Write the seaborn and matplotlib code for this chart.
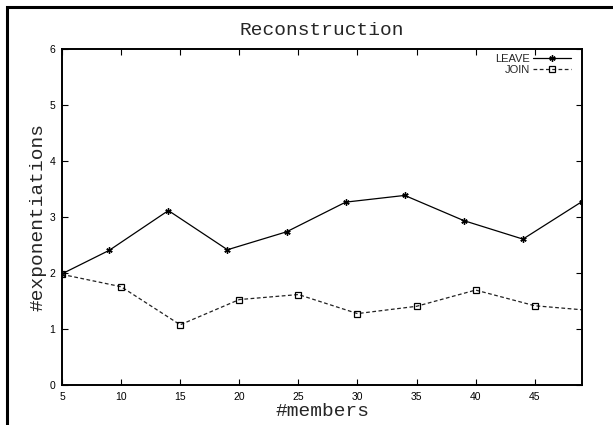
import matplotlib
matplotlib.use('Agg')

import matplotlib.pyplot as plt
import seaborn as sns
import pandas as pd
from matplotlib.patches import Rectangle

# data
leave_x = [5, 9, 14, 19, 24, 29, 34, 39, 44, 49]
leave_y = [1.98, 2.40, 3.11, 2.41, 2.73, 3.26, 3.38, 2.93, 2.60, 3.27]
join_x = [5, 10, 15, 20, 25, 30, 35, 40, 45, 50]
join_y = [1.97, 1.75, 1.07, 1.52, 1.61, 1.27, 1.40, 1.69, 1.41, 1.32]
x_ticks = [5, 10, 15, 20, 25, 30, 35, 40, 45]
y_ticks = [0, 1, 2, 3, 4, 5, 6]

sns.set_style("ticks")
plt.rcParams['font.family'] = ['Liberation Sans', 'DejaVu Sans']
mono = ['Liberation Mono', 'DejaVu Sans Mono']

fig = plt.figure(figsize=(6.13, 4.25), dpi=100)
ax = fig.add_axes([62 / 613, 1 - 384.7 / 425, 520 / 613, 336 / 425])

# outer frame (cut off on right and bottom like the reference)
fig.patches.append(Rectangle((7 / 613, -0.5), 2, 1.5 - 7 / 425, transform=fig.transFigure,
                             fill=False, edgecolor='black', linewidth=2.2))

df_leave = pd.DataFrame({"x": leave_x, "y": leave_y})
df_join = pd.DataFrame({"x": join_x, "y": join_y})

sns.lineplot(data=df_leave, x="x", y="y", ax=ax, color="black", linewidth=0.9,
             marker=(6, 2, 0), markersize=4.5, markeredgewidth=1.0,
             markeredgecolor="black", label="LEAVE")
sns.lineplot(data=df_join, x="x", y="y", ax=ax, color="#222222", linewidth=0.9,
             linestyle=(0, (3, 2)), marker="s", markersize=4.5,
             markerfacecolor="none", markeredgecolor="black", markeredgewidth=0.9,
             label="JOIN")

ax.set_xlim(5, 49)
ax.set_ylim(0, 6)
ax.set_xticks(x_ticks)
ax.set_yticks(y_ticks)
ax.tick_params(direction="in", length=4.5, width=0.8, labelsize=7.5,
               top=True, right=True, pad=5, colors="black")
for s in ax.spines.values():
    s.set_linewidth(1.4)
    s.set_color("black")

ax.set_title("Reconstruction", family=mono, fontsize=14, pad=10)
ax.set_xlabel("#members", family=mono, fontsize=14, labelpad=1)
ax.set_ylabel("#exponentiations", family=mono, fontsize=14, labelpad=2)

leg = ax.legend(loc="upper right", bbox_to_anchor=(0.98, 0.986), frameon=False,
                markerfirst=False, fontsize=8, handlelength=3.4, handletextpad=0.3,
                labelspacing=0.05, borderaxespad=0, borderpad=0.05)

fig.savefig("out.png", dpi=100)
